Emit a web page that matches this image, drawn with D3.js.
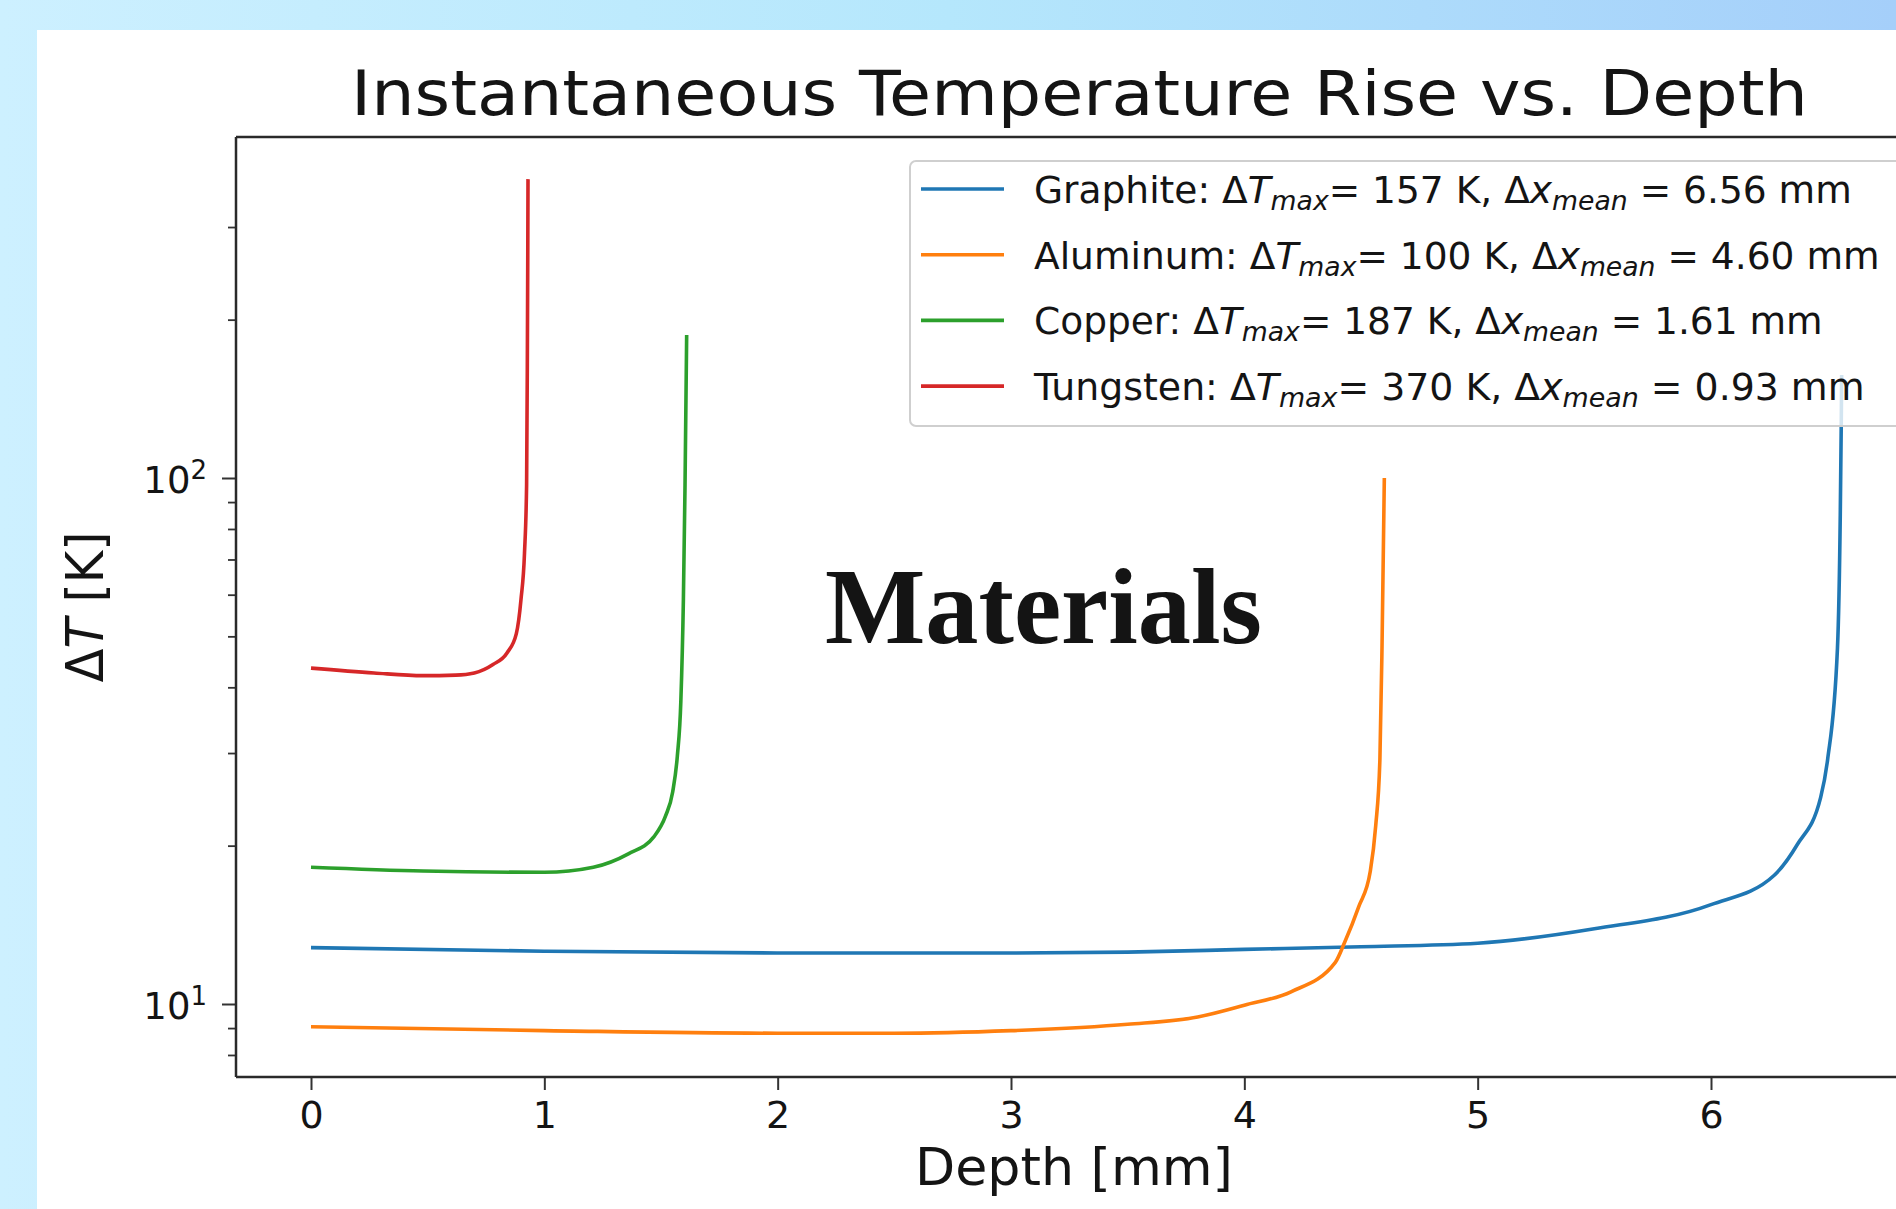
<!DOCTYPE html>
<html>
<head>
<meta charset="utf-8">
<script src="https://cdn.jsdelivr.net/npm/d3@7"></script>
<style>
  body { margin: 0; overflow: hidden; background: #fff; }
  svg { display: block; }
  text { fill: #141414; font-family: "DejaVu Sans", sans-serif; }
</style>
</head>
<body>
<svg id="chart" width="1896" height="1209"></svg>
<script>
'use strict';

// ---- data ----
var materials = ["Graphite", "Aluminum", "Copper", "Tungsten"];
var colors = ["#1f77b4", "#ff7f0e", "#2ca02c", "#d62728"];
var dTmax = [157, 100, 187, 370];
var xMean = ["6.56", "4.60", "1.61", "0.93"];

var graphiteDepth = [0, 1, 2, 3, 3.5, 4, 4.5, 5, 5.5, 6, 6.27, 6.37, 6.47, 6.5, 6.542, 6.554, 6.558, 6.56];
var graphiteDT    = [12.8, 12.6, 12.5, 12.5, 12.55, 12.7, 12.85, 13.05, 13.9, 15.45, 17.55, 20.1, 24.7, 29.2, 47.5, 85, 124, 157];

var aluminumDepth = [0, 1, 2, 2.5, 3, 3.5, 3.8, 4.0, 4.2, 4.39, 4.43, 4.49, 4.54, 4.563, 4.581, 4.59, 4.60];
var aluminumDT    = [9.05, 8.9, 8.8, 8.8, 8.9, 9.15, 9.45, 9.95, 10.55, 12.0, 13.1, 15.3, 17.9, 21.8, 29.2, 47.5, 100];

var copperDepth = [0, 0.48, 1.0, 1.21, 1.36, 1.47, 1.52, 1.55, 1.57, 1.585, 1.596, 1.603, 1.61];
var copperDT    = [18.2, 17.9, 17.8, 18.2, 19.3, 20.8, 22.8, 25.3, 29.6, 37.6, 58.9, 97, 187];

var tungstenDepth = [0, 0.27, 0.48, 0.62, 0.70, 0.78, 0.84, 0.88, 0.90, 0.915, 0.924, 0.927, 0.929, 0.93];
var tungstenDT    = [43.5, 42.6, 42.1, 42.2, 42.6, 44.2, 46.5, 50.6, 58.8, 72, 97, 160, 265, 370];

var xTicks = [0, 1, 2, 3, 4, 5, 6];
var yMajorTicks = [10, 100];
var yMinorTicks = [8, 9, 20, 30, 40, 50, 60, 70, 80, 90, 200, 300];

var title = "Instantaneous Temperature Rise vs. Depth";
var xLabel = "Depth [mm]";
var overlayText = "Materials";

// ---- layout ----
var W = 1896, H = 1209;
var panel = { left: 37, top: 30 };
var frame = { left: 236, top: 137, bottom: 1077, right: 1930 };

var svg = d3.select("#chart");

var defs = svg.append("defs");
var grad = defs.append("linearGradient").attr("id", "bg").attr("x1", 0).attr("x2", 1).attr("y1", 0).attr("y2", 0);
grad.append("stop").attr("offset", 0).attr("stop-color", "#cdf0ff");
grad.append("stop").attr("offset", 0.5).attr("stop-color", "#b5e7fc");
grad.append("stop").attr("offset", 1).attr("stop-color", "#a5cffa");

defs.append("clipPath").attr("id", "plotclip")
    .append("rect")
    .attr("x", frame.left)
    .attr("y", frame.top)
    .attr("width", frame.right - frame.left)
    .attr("height", frame.bottom - frame.top);

svg.append("rect").attr("width", W).attr("height", H).attr("fill", "url(#bg)");
svg.append("rect")
    .attr("x", panel.left)
    .attr("y", panel.top)
    .attr("width", W - panel.left)
    .attr("height", H - panel.top)
    .attr("fill", "#fff");

var x = d3.scaleLinear().domain([0, 6]).range([311, 1711]);
var y = d3.scaleLog().domain([10, 100]).range([1004, 478]);

function fitWidth(sel, target, anchorX) {
    var w = sel.node().getBBox().width;
    var k = target / w;
    sel.attr("transform", "translate(" + anchorX + ",0) scale(" + k + ",1) translate(" + (-anchorX) + ",0)");
}

// title
var t = svg.append("text")
    .attr("x", 351)
    .attr("y", 115)
    .attr("font-size", 63)
    .text(title);
fitWidth(t, 1457, 351);

// curves
var series = [
    { depth: graphiteDepth, dt: graphiteDT },
    { depth: aluminumDepth, dt: aluminumDT },
    { depth: copperDepth, dt: copperDT },
    { depth: tungstenDepth, dt: tungstenDT }
];

var line = d3.line()
    .x(function (d) { return x(d[0]); })
    .y(function (d) { return y(d[1]); })
    .curve(d3.curveMonotoneX);

var plot = svg.append("g").attr("clip-path", "url(#plotclip)");
series.forEach(function (s, i) {
    var pts = s.depth.map(function (v, j) { return [v, s.dt[j]]; });
    plot.append("path")
        .datum(pts)
        .attr("d", line)
        .attr("fill", "none")
        .attr("stroke", colors[i])
        .attr("stroke-width", 3.6)
        .attr("stroke-linejoin", "round");
});

// axes
var xAxis = svg.append("g")
    .attr("transform", "translate(0," + frame.bottom + ")")
    .call(d3.axisBottom(x).tickValues(xTicks).tickSize(13).tickSizeOuter(0).tickFormat(d3.format("d")));
xAxis.select(".domain").remove();
xAxis.selectAll(".tick line").attr("stroke", "#333").attr("stroke-width", 2);
xAxis.selectAll(".tick text")
    .attr("y", 51)
    .attr("dy", 0)
    .attr("font-size", 38)
    .attr("font-family", "DejaVu Sans")
    .attr("fill", "#141414");

var yMinor = svg.append("g")
    .attr("transform", "translate(" + frame.left + ",0)")
    .call(d3.axisLeft(y).tickValues(yMinorTicks).tickSize(8).tickSizeOuter(0).tickFormat(""));
yMinor.select(".domain").remove();
yMinor.selectAll(".tick line").attr("stroke", "#333").attr("stroke-width", 1.8);

var yMajor = svg.append("g")
    .attr("transform", "translate(" + frame.left + ",0)")
    .call(d3.axisLeft(y).tickValues(yMajorTicks).tickSize(14).tickSizeOuter(0).tickFormat(""));
yMajor.select(".domain").remove();
yMajor.selectAll(".tick line").attr("stroke", "#333").attr("stroke-width", 2);
yMajor.selectAll(".tick").each(function (d) {
    var txt = d3.select(this).append("text")
        .attr("x", -29)
        .attr("y", 14)
        .attr("text-anchor", "end")
        .attr("font-size", 37)
        .attr("fill", "#141414");
    txt.append("tspan").text("10");
    txt.append("tspan")
        .attr("dy", -14)
        .attr("font-size", 26)
        .text(String(Math.round(Math.log10(d))));
});

// spines
var spines = svg.append("g").attr("stroke", "#2a2a2a").attr("stroke-width", 2.5).attr("fill", "none");
spines.append("path").attr("d", "M" + frame.left + "," + frame.top + "V" + frame.bottom);
spines.append("path").attr("d", "M" + frame.left + "," + frame.bottom + "H" + W);
spines.append("path").attr("d", "M" + frame.left + "," + frame.top + "H" + W);

// axis labels
var xl = svg.append("text")
    .attr("x", 1074)
    .attr("y", 1185)
    .attr("text-anchor", "middle")
    .attr("font-size", 51)
    .text(xLabel);
fitWidth(xl, 318, 1074);

var yl = svg.append("text")
    .attr("text-anchor", "middle")
    .attr("font-size", 51);
yl.append("tspan").text("\u0394");
yl.append("tspan").attr("font-style", "italic").text("T");
yl.append("tspan").text(" [K]");
var ylw = yl.node().getBBox().width;
yl.attr("transform", "translate(103,607) rotate(-90) scale(" + (151 / ylw) + ",1)");

// legend
var legend = svg.append("g");
legend.append("rect")
    .attr("x", 910)
    .attr("y", 161)
    .attr("width", 1100)
    .attr("height", 265)
    .attr("rx", 6)
    .attr("fill", "#fff")
    .attr("fill-opacity", 0.8)
    .attr("stroke", "#cfcfcf")
    .attr("stroke-width", 2);

var legendWidths = [818, 846, 789, 832];
materials.forEach(function (name, i) {
    var cy = 189 + i * 65.7;
    legend.append("line")
        .attr("x1", 921).attr("x2", 1004)
        .attr("y1", cy).attr("y2", cy)
        .attr("stroke", colors[i])
        .attr("stroke-width", 3.6);
    var lt = legend.append("text")
        .attr("x", 1034)
        .attr("y", cy + 14)
        .attr("font-size", 38);
    lt.append("tspan").text(name + ": \u0394");
    lt.append("tspan").attr("font-style", "italic").text("T");
    lt.append("tspan").attr("font-style", "italic").attr("font-size", 27).attr("dy", 7).text("max");
    lt.append("tspan").attr("dy", -7).text("= " + dTmax[i] + " K, \u0394");
    lt.append("tspan").attr("font-style", "italic").text("x");
    lt.append("tspan").attr("font-style", "italic").attr("font-size", 27).attr("dy", 7).text("mean");
    lt.append("tspan").attr("dy", -7).text(" = " + xMean[i] + " mm");
    fitWidth(lt, legendWidths[i], 1034);
});

// overlay word
var ov = svg.append("text")
    .attr("x", 825)
    .attr("y", 643)
    .attr("font-weight", "bold")
    .attr("font-size", 107)
    .style("font-family", "'Liberation Serif', 'Times New Roman', serif")
    .attr("fill", "#000")
    .text(overlayText);
fitWidth(ov, 437, 825);
</script>
</body>
</html>
